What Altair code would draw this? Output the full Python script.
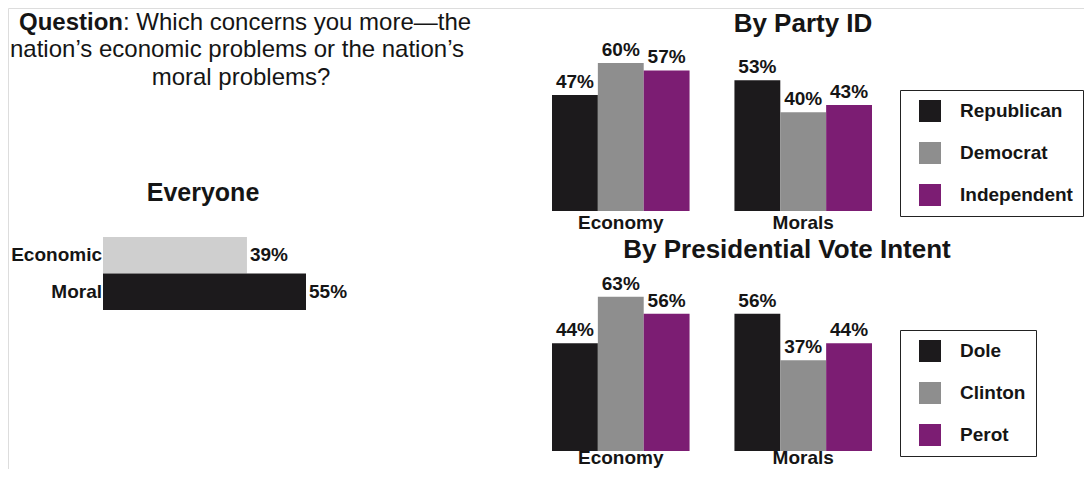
import altair as alt
import pandas as pd

FONT = "Liberation Sans"
INK = "#151515"

# ---- data ----
everyone_cats = ["Economic", "Moral"]
everyone_vals = [39, 55]

groups = ["Economy", "Morals"]
parties = ["Republican", "Democrat", "Independent"]
party_econ = [47, 60, 57]
party_moral = [53, 40, 43]

candidates = ["Dole", "Clinton", "Perot"]
vote_econ = [44, 63, 56]
vote_moral = [56, 37, 44]

q_line1_bold = "Question"
q_line1_rest = ": Which concerns you more\u2014the"
q_line2 = "nation\u2019s economic problems or the nation\u2019s"
q_line3 = "moral problems?"

series_colors = ["#1c1a1c", "#8e8e8e", "#7c1d73"]
everyone_colors = ["#cfcfcf", "#1c1a1c"]

# ---- tables ----
ev_df = pd.DataFrame({"cat": everyone_cats, "v": everyone_vals})
ev_df["lbl"] = ev_df["v"].astype(str) + "%"

def grouped(keys, econ, moral, keyname):
    rows = []
    for g, vals in zip(groups, [econ, moral]):
        for k, v in zip(keys, vals):
            rows.append({"group": g, keyname: k, "v": v, "lbl": f"{v}%"})
    return pd.DataFrame(rows)

party_df = grouped(parties, party_econ, party_moral, "s")
vote_df = grouped(candidates, vote_econ, vote_moral, "s")
grp_df = pd.DataFrame({"group": groups})


def text_layer(txt, x, y, size, weight="normal", align="center", baseline="alphabetic"):
    return alt.Chart(pd.DataFrame({"t": [txt]})).mark_text(
        font=FONT, fontSize=size, fontWeight=weight, align=align,
        baseline=baseline, color=INK
    ).encode(x=alt.value(x), y=alt.value(y), text="t:N")


# ---- question text ----
q1a = text_layer(q_line1_bold, 115, 22, 24, "bold", "right")
q1b = text_layer(q_line1_rest, 115, 22, 24, "normal", "left")
q2 = text_layer(q_line2, 229, 49, 24)
q3 = text_layer(q_line3, 233, 77, 24)

# ---- Everyone chart ----
ev_x = alt.Scale(domain=[0, 55], range=[95, 298])
ev_y = alt.Scale(domain=everyone_cats, range=[229, 302], paddingInner=0, paddingOuter=0)
ev_base = alt.Chart(ev_df)
ev_bars = ev_base.mark_bar().encode(
    y=alt.Y("cat:N", scale=ev_y, axis=None),
    x=alt.X("v:Q", scale=ev_x, axis=None),
    color=alt.Color("cat:N", scale=alt.Scale(domain=everyone_cats, range=everyone_colors), legend=None),
)
ev_vals = ev_base.mark_text(font=FONT, fontSize=19, fontWeight="bold", align="left",
                            baseline="middle", dx=3, color=INK).encode(
    y=alt.Y("cat:N", scale=ev_y, axis=None),
    x=alt.X("v:Q", scale=ev_x, axis=None),
    text="lbl:N",
)
ev_cats = ev_base.mark_text(font=FONT, fontSize=19, fontWeight="bold", align="right",
                            baseline="middle", color=INK).encode(
    y=alt.Y("cat:N", scale=ev_y, axis=None),
    x=alt.value(94),
    text="cat:N",
)
ev_title = text_layer("Everyone", 195, 193, 25, "bold")
everyone = alt.layer(ev_bars, ev_vals, ev_cats)


# ---- grouped bar panels ----
def panel(df, keys, y_range, legend_y, title_txt, title_x, title_y, label_y):
    xs = alt.Scale(domain=groups, range=[544, 864], paddingInner=0.246, paddingOuter=0)
    xo = alt.Scale(domain=keys, paddingInner=0, paddingOuter=0)
    ys = alt.Scale(domain=[0, 60], range=y_range)
    base = alt.Chart(df)
    bars = base.mark_bar().encode(
        x=alt.X("group:N", scale=xs, axis=None),
        xOffset=alt.XOffset("s:N", scale=xo),
        y=alt.Y("v:Q", scale=ys, axis=None),
        color=alt.Color(
            "s:N",
            scale=alt.Scale(domain=keys, range=series_colors),
            legend=alt.Legend(
                orient="none", legendX=892, legendY=legend_y, title=None,
                symbolType="square", symbolSize=484, symbolStrokeWidth=0,
                labelFont=FONT, labelFontSize=19, labelFontWeight="bold",
                labelColor=INK, labelOffset=19, rowPadding=20, padding=10,
                symbolOffset=9, strokeColor="#222", fillColor="white",
                labelLimit=400,
            ),
        ),
    )
    vals = base.mark_text(font=FONT, fontSize=19, fontWeight="bold", baseline="bottom",
                          dy=-3, color=INK).encode(
        x=alt.X("group:N", scale=xs, axis=None),
        xOffset=alt.XOffset("s:N", scale=xo),
        y=alt.Y("v:Q", scale=ys, axis=None),
        text="lbl:N",
    )
    glabels = alt.Chart(grp_df).mark_text(font=FONT, fontSize=19, fontWeight="bold",
                                          baseline="alphabetic", color=INK).encode(
        x=alt.X("group:N", scale=xs, axis=None),
        y=alt.value(label_y),
        text="group:N",
    )
    title = text_layer(title_txt, title_x, title_y, 26, "bold")
    return alt.layer(bars, vals, glabels), title


party, party_title = panel(party_df, parties, [203, 55], 82, "By Party ID", 795, 24, 221)
vote, vote_title = panel(vote_df, candidates, [443, 296], 322,
                         "By Presidential Vote Intent", 779, 250, 456)

chart = alt.layer(
    q1a, q1b, q2, q3, ev_title, party_title, vote_title,
    everyone, party, vote,
).resolve_scale(
    x="independent", y="independent", color="independent", xOffset="independent"
).resolve_legend(color="independent").properties(
    width=1076, height=461, autosize="none", padding=0
).configure_view(stroke=None).configure(font=FONT)

chart.save("out.html", embed_options={"renderer": "svg", "actions": False})
